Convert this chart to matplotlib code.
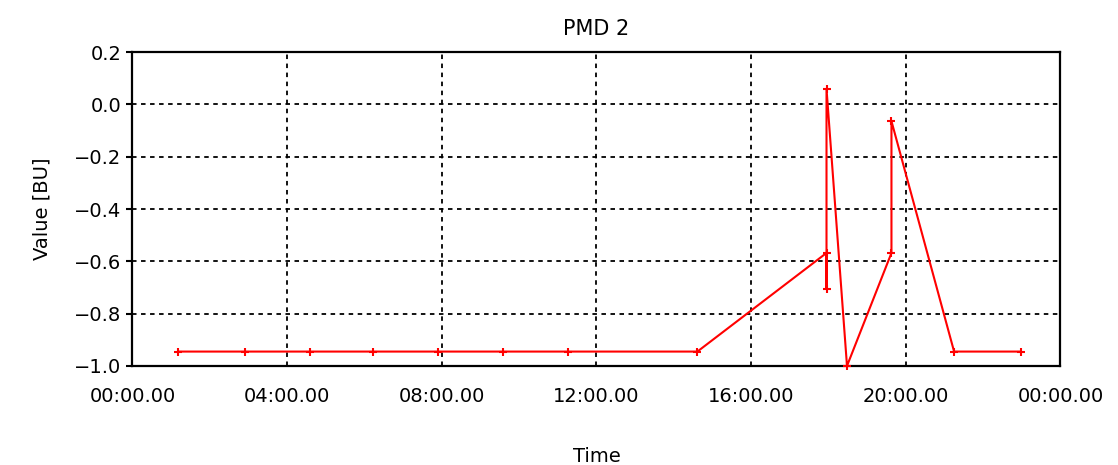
import matplotlib
matplotlib.use('Agg')
import matplotlib.pyplot as plt

# time in hours of the day, value in BU
hours = [1.18, 2.91, 4.59, 6.22, 7.90, 9.58, 11.27, 14.61,
         17.95, 17.95, 17.95, 18.48, 19.63, 19.63, 21.25, 22.98]
values = [-0.945, -0.945, -0.945, -0.945, -0.945, -0.945, -0.945, -0.945,
          -0.568, -0.705, 0.06, -1.0, -0.568, -0.064, -0.945, -0.945]

xticks = [0, 4, 8, 12, 16, 20, 24]
xticklabels = ['00:00.00', '04:00.00', '08:00.00', '12:00.00',
               '16:00.00', '20:00.00', '00:00.00']
yticks = [-1.0, -0.8, -0.6, -0.4, -0.2, 0.0, 0.2]

plt.rcParams['font.family'] = ['DejaVu Sans']
fs = 14

fig = plt.figure(figsize=(11.18, 4.65), dpi=100)
ax = fig.add_axes([0.1185, 0.213, 0.83, 0.675])

ax.plot(hours, values, color='red', linewidth=1.5, marker='+',
        markersize=6, markeredgewidth=1.5, clip_on=False, zorder=3)

ax.set_xlim(0, 24)
ax.set_ylim(-1.0, 0.2)
ax.set_xticks(xticks)
ax.set_xticklabels(xticklabels, fontsize=fs)
ax.set_yticks(yticks)
ax.set_yticklabels([('%.1f' % v).replace('-', '\u2212') for v in yticks], fontsize=fs)
ax.tick_params(axis='x', length=0, pad=15)
ax.tick_params(axis='y', length=4, width=1.5, pad=4)

ax.grid(True, color='black', linestyle=(0, (2.5, 2.5)), linewidth=1.3)
for s in ax.spines.values():
    s.set_linewidth(1.6)

ax.set_title('PMD 2', fontsize=fs + 1, pad=12)
ax.set_xlabel('Time', fontsize=fs, labelpad=30)
ax.set_ylabel('Value [BU]', fontsize=fs, labelpad=16)

fig.savefig('out.png', dpi=100)
